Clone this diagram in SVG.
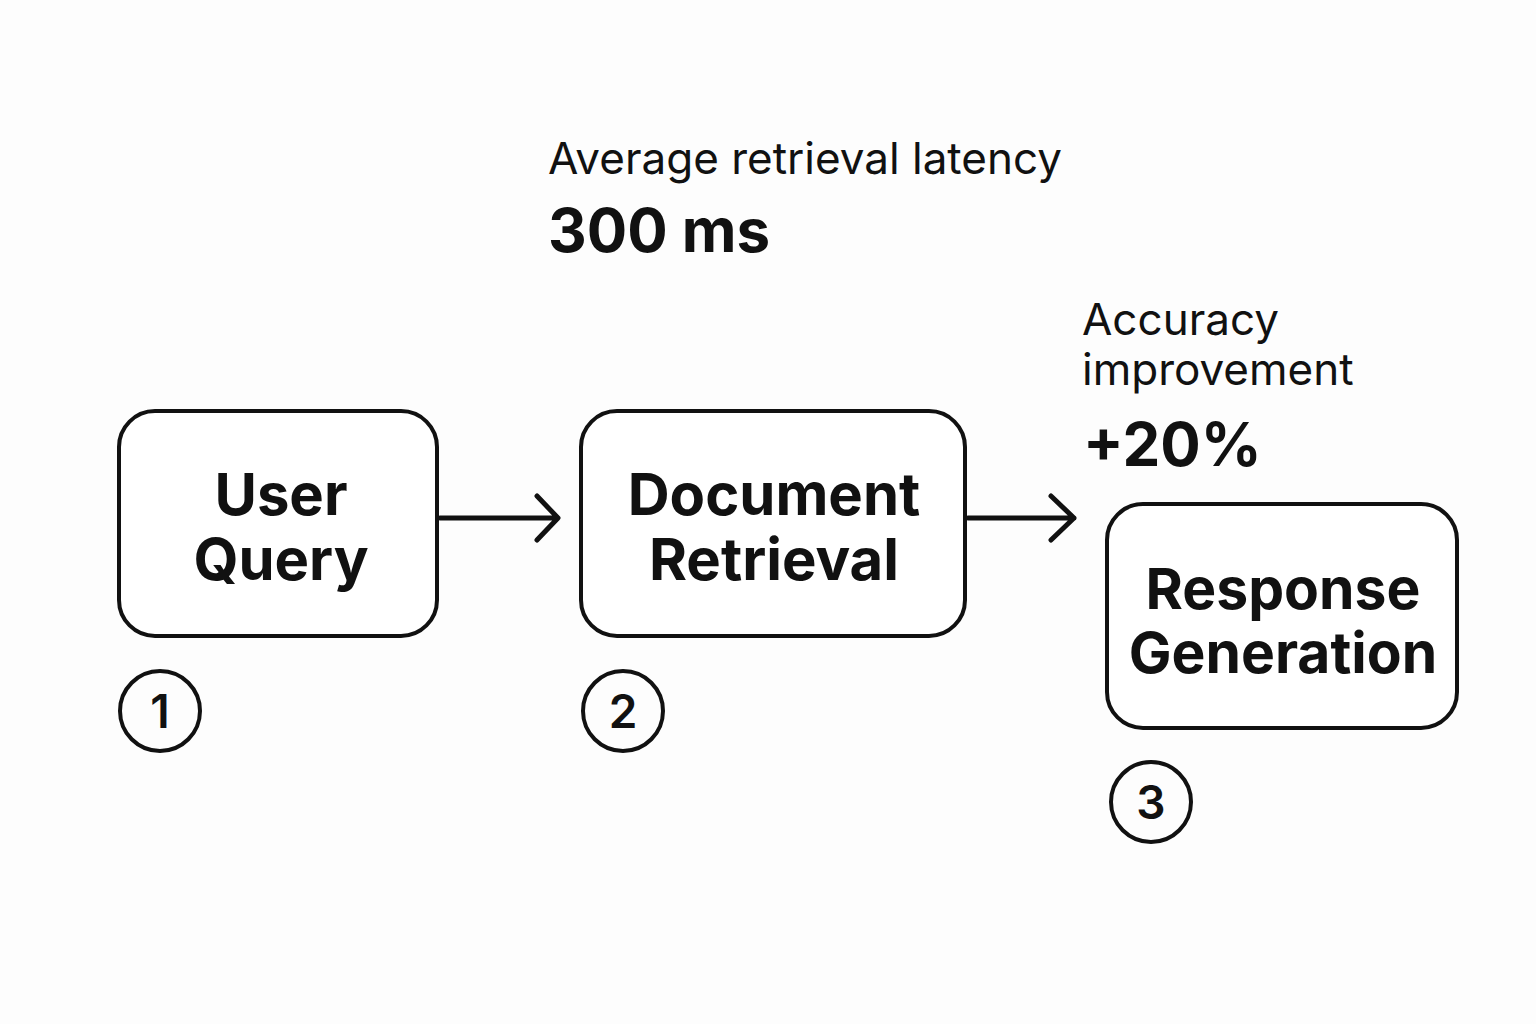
<svg xmlns="http://www.w3.org/2000/svg" width="1536" height="1024" viewBox="0 0 1536 1024">
<style>
.box{fill:#fff;stroke:#111;stroke-width:4}
.lbl{font-family:Inter,"Liberation Sans",sans-serif;font-weight:700;font-size:58px;fill:#111;text-anchor:middle}
.num{font-family:Inter,"Liberation Sans",sans-serif;font-weight:600;font-size:46px;fill:#111;text-anchor:middle}
.circ{fill:none;stroke:#111;stroke-width:4}
.cap{font-family:Inter,"Liberation Sans",sans-serif;font-weight:400;font-size:44px;fill:#111}
.big{font-family:Inter,"Liberation Sans",sans-serif;font-weight:700;font-size:60px;fill:#111}
.conn{fill:none;stroke:#111;stroke-width:5;stroke-linecap:round;stroke-linejoin:round}
</style>
<rect width="1536" height="1024" fill="#fdfdfd"/>
<g id="node-user-query">
<rect class="box" x="119" y="411" width="318" height="225" rx="36"/>
<text class="lbl" x="281" y="515">User</text>
<text class="lbl" x="281" y="580">Query</text>
<circle class="circ" cx="160" cy="711" r="40"/>
<text class="num" x="160" y="728">1</text>
</g>
<g id="node-document-retrieval">
<rect class="box" x="581" y="411" width="384" height="225" rx="36"/>
<text class="lbl" x="774" y="515">Document</text>
<text class="lbl" x="774" y="580">Retrieval</text>
<circle class="circ" cx="623" cy="711" r="40"/>
<text class="num" x="623" y="728">2</text>
</g>
<g id="node-response-generation">
<rect class="box" x="1107" y="504" width="350" height="224" rx="36"/>
<text class="lbl" x="1283" y="609" style="font-size:57px">Response</text>
<text class="lbl" x="1283" y="673" style="font-size:57px">Generation</text>
<circle class="circ" cx="1151" cy="802" r="40"/>
<text class="num" x="1151" y="819">3</text>
</g>
<g id="metric-latency">
<text class="cap" x="548" y="174">Average retrieval latency</text>
<text class="big" x="548" y="252">300 ms</text>
</g>
<g id="metric-accuracy">
<text class="cap" x="1082" y="335">Accuracy</text>
<text class="cap" x="1082" y="385">improvement</text>
<text class="big" x="1083" y="466">+20%</text>
</g>
<g id="connectors">
<path class="conn" d="M440 518 H557 M537 496 L558 518 L537 540"/>
<path class="conn" d="M968 518 H1074 M1051 496 L1074 518 L1051 540"/>
</g>
</svg>
